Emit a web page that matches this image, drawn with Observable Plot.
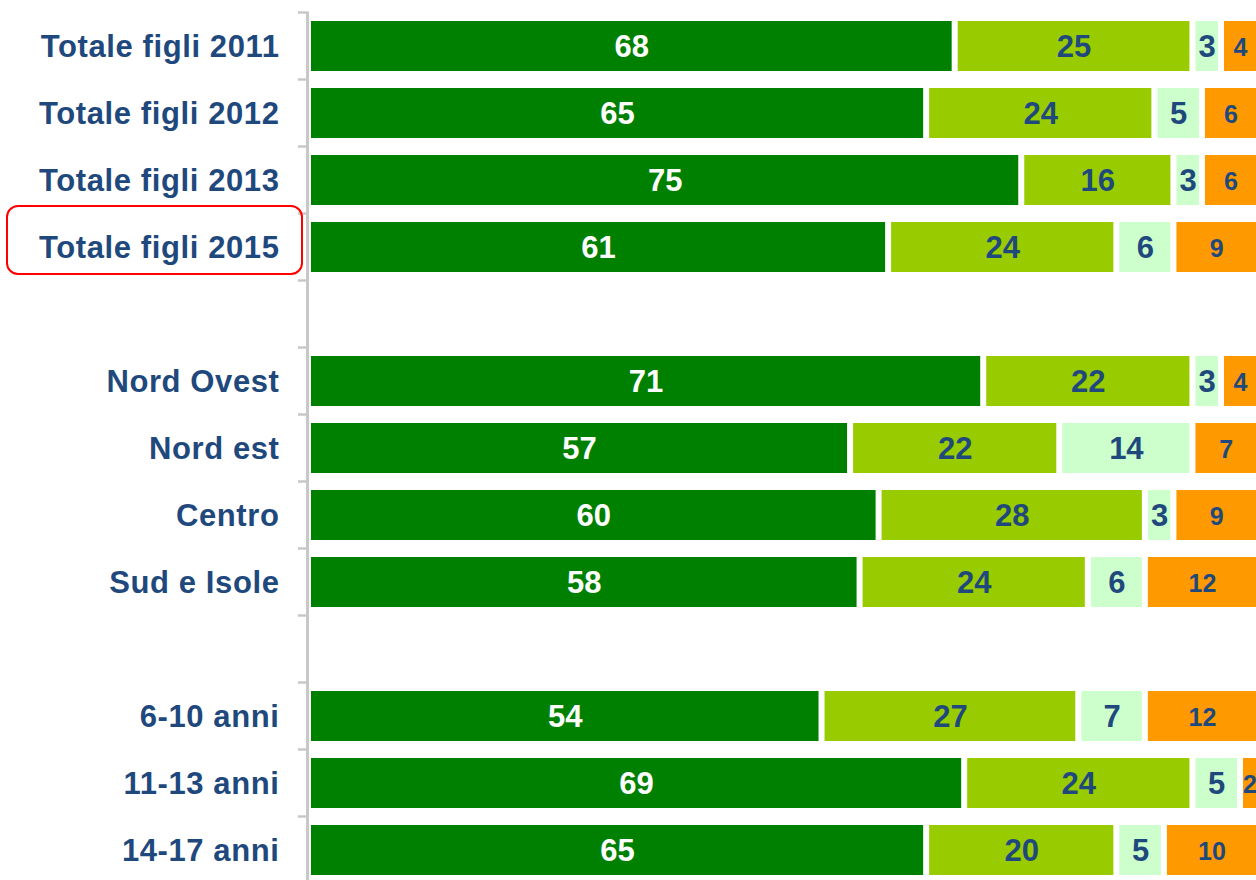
<!DOCTYPE html>
<html>
<head>
<meta charset="utf-8">
<script src="https://cdn.jsdelivr.net/npm/d3@7"></script>
<script src="https://cdn.jsdelivr.net/npm/@observablehq/plot@0.6"></script>
<style>
  html, body { margin: 0; padding: 0; background: #fff; overflow: hidden; }
  #chart svg { display: block; }
</style>
</head>
<body>
<div id="chart"></div>
<script>
// Categories (blank entries are spacer rows between groups)
const categories = ["Totale figli 2011", "Totale figli 2012", "Totale figli 2013", "Totale figli 2015", " ",
  "Nord Ovest", "Nord est", "Centro", "Sud e Isole", "  ",
  "6-10 anni", "11-13 anni", "14-17 anni"];
const barCategories = ["Totale figli 2011", "Totale figli 2012", "Totale figli 2013", "Totale figli 2015",
  "Nord Ovest", "Nord est", "Centro", "Sud e Isole",
  "6-10 anni", "11-13 anni", "14-17 anni"];
// Series values (percent), in stacking order
const series1 = [68, 65, 75, 61, 71, 57, 60, 58, 54, 69, 65];
const series2 = [25, 24, 16, 24, 22, 22, 28, 24, 27, 24, 20];
const series3 = [3, 5, 3, 6, 3, 14, 3, 6, 7, 5, 5];
const series4 = [4, 6, 6, 9, 4, 7, 9, 12, 12, 2, 10];
const seriesKeys = ["s1", "s2", "s3", "s4"];
const seriesColors = ["#008000", "#99CC00", "#CCFFCC", "#FF9900"];
const highlighted = "Totale figli 2015";

const allSeries = [series1, series2, series3, series4];
const rows = [];
barCategories.forEach((cat, i) => {
  let acc = 0;
  allSeries.forEach((s, k) => {
    const v = s[i];
    rows.push({cat, key: seriesKeys[k], value: v, x1: acc, x2: acc + v, mid: acc + v / 2});
    acc += v;
  });
});

const labelColor = "#1F497D";
const font = "'Liberation Sans', Arial, Helvetica, sans-serif";

const plot = Plot.plot({
  width: 1256,
  height: 880,
  marginLeft: 308,
  marginRight: 0,
  marginTop: 0,
  marginBottom: 0,
  style: {fontFamily: font, background: "#fff", overflow: "hidden"},
  x: {domain: [0, 100], range: [308, 1259], axis: null},
  y: {domain: categories, range: [12, 883], paddingInner: 0.26, paddingOuter: 0.13, axis: null},
  color: {domain: seriesKeys, range: seriesColors},
  marks: [
    Plot.rectX(rows, {
      x1: "x1", x2: "x2", y: "cat", fill: "key",
      insetLeft: 3, insetRight: 3, clip: true
    }),
    Plot.text(rows, {
      x: "mid", y: "cat", text: d => String(d.value),
      fill: d => d.key === "s1" ? "#ffffff" : labelColor,
      fontSize: d => d.key === "s4" ? 25 : 31,
      fontWeight: "bold", clip: true, dy: 1
    }),
    Plot.text(barCategories, {
      y: d => d, text: d => d, frameAnchor: "left", textAnchor: "end", dx: -29,
      fill: labelColor, fontSize: 31, fontWeight: "bold", dy: 1
    })
  ]
});

document.getElementById("chart").appendChild(plot);

// Slightly wider tracking on the category labels
const textGroups = plot.querySelectorAll("g[aria-label='text']");
if (textGroups.length) textGroups[textGroups.length - 1].style.letterSpacing = "0.6px";

// Axis line, boundary ticks and highlight box, positioned through the y scale
const y = plot.scale("y");
const svg = d3.select(plot);
const step = y.step;
const bw = y.bandwidth;
const firstTop = y.apply(categories[0]) - (step - bw) / 2;
const g = svg.append("g");
g.append("line")
  .attr("x1", 307.5).attr("x2", 307.5)
  .attr("y1", firstTop - 1).attr("y2", 880)
  .attr("stroke", "#C8C8C8").attr("stroke-width", 3);
categories.forEach((c, i) => {
  const yy = y.apply(c) - (step - bw) / 2;
  g.append("line")
    .attr("x1", 298).attr("x2", 307)
    .attr("y1", yy).attr("y2", yy)
    .attr("stroke", "#C8C8C8").attr("stroke-width", 2.5);
});
const hc = y.apply(highlighted) + bw / 2;
g.append("rect")
  .attr("x", 7).attr("y", hc - 41).attr("width", 295).attr("height", 68)
  .attr("rx", 11).attr("ry", 11)
  .attr("fill", "none").attr("stroke", "#FF0000").attr("stroke-width", 2);
</script>
</body>
</html>
